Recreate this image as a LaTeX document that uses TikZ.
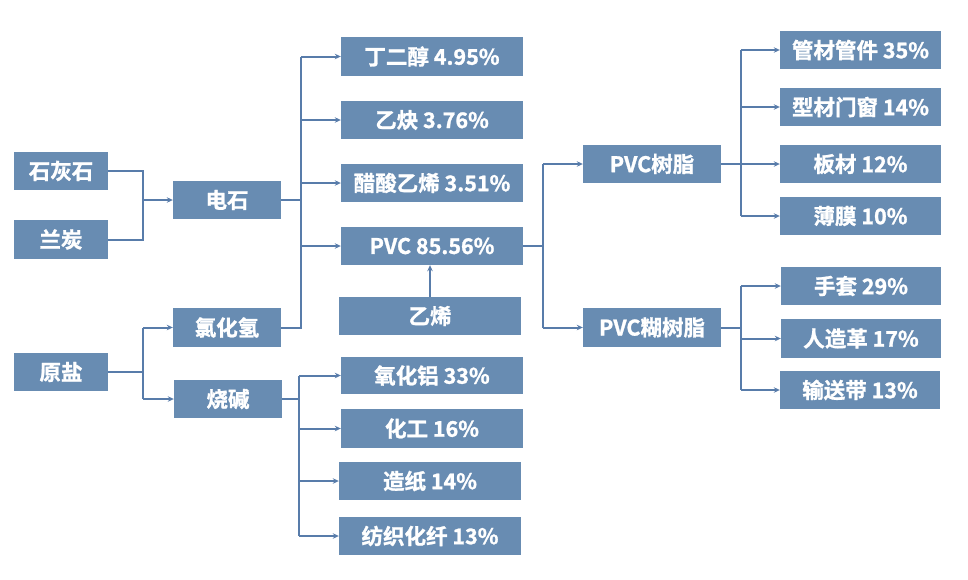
\documentclass[tikz,border=0pt]{standalone}
\usepackage{fontspec}
\setmainfont{Noto Sans CJK SC}[BoldFont={Noto Sans CJK SC Bold},BoldFeatures={FakeBold=1.2}]
\usetikzlibrary{arrows.meta}
\definecolor{boxblue}{RGB}{104,140,178}
\definecolor{lineblue}{RGB}{88,124,170}
\begin{document}
\begin{tikzpicture}[x=1pt,y=-1pt,
  bx/.style={fill=boxblue,draw=none,text=white,inner sep=0pt,
    font=\bfseries\fontsize{21.5}{24}\selectfont},
  ln/.style={draw=lineblue,line width=2pt},
  arr/.style={ln,-{Stealth[length=6pt,width=5.5pt]}}]
\useasboundingbox (0,0) rectangle (968,579);
\fill[white] (0,0) rectangle (968,579);
% left column
\node[bx,minimum width=94pt,minimum height=38pt] (shihui) at (61,171) {石灰石};
\node[bx,minimum width=94pt,minimum height=39pt] (lantan) at (61,239.5) {兰炭};
\node[bx,minimum width=94pt,minimum height=38pt] (yuanyan) at (61,372) {原盐};
% second column
\node[bx,minimum width=108pt,minimum height=38pt] (dianshi) at (227,200) {电石};
\node[bx,minimum width=108pt,minimum height=39pt] (lvhuaqing) at (227,327.5) {氯化氢};
\node[bx,minimum width=108pt,minimum height=38pt] (shaojian) at (228,399) {烧碱};
% third column
\node[bx,minimum width=182pt,minimum height=39pt] (dinger) at (432,56.5) {丁二醇 4.95\%};
\node[bx,minimum width=182pt,minimum height=38pt] (yique) at (432,120) {乙炔 3.76\%};
\node[bx,minimum width=182pt,minimum height=38pt] (cusuan) at (432,183) {醋酸乙烯 3.51\%};
\node[bx,minimum width=182pt,minimum height=38pt] (pvc) at (432,246) {PVC 85.56\%};
\node[bx,minimum width=182pt,minimum height=38pt] (yixi) at (430,316) {乙烯};
\node[bx,minimum width=182pt,minimum height=37pt] (yanghualv) at (432,375.5) {氧化铝 33\%};
\node[bx,minimum width=182pt,minimum height=39pt] (huagong) at (432,428.5) {化工 16\%};
\node[bx,minimum width=182pt,minimum height=38pt] (zaozhi) at (430,481) {造纸 14\%};
\node[bx,minimum width=182pt,minimum height=38pt] (fangzhi) at (430,536) {纺织化纤 13\%};
% fourth column
\node[bx,minimum width=138pt,minimum height=38pt] (pvcsz) at (652,164) {PVC树脂};
\node[bx,minimum width=138pt,minimum height=39pt] (pvchu) at (652,327.5) {PVC糊树脂};
% fifth column
\node[bx,minimum width=161pt,minimum height=38pt] (guancai) at (860.5,50) {管材管件 35\%};
\node[bx,minimum width=161pt,minimum height=38pt] (xingcai) at (860.5,107) {型材门窗 14\%};
\node[bx,minimum width=161pt,minimum height=38pt] (bancai) at (860.5,164) {板材 12\%};
\node[bx,minimum width=161pt,minimum height=38pt] (baomo) at (860.5,216) {薄膜 10\%};
\node[bx,minimum width=160pt,minimum height=38pt] (shoutao) at (861,286) {手套 29\%};
\node[bx,minimum width=160pt,minimum height=39pt] (renzaoge) at (861,338.5) {人造革 17\%};
\node[bx,minimum width=160pt,minimum height=38pt] (shusong) at (860,390) {输送带 13\%};
% bus coordinates
\coordinate (b1) at (143,0);
\coordinate (b2) at (301,0);
\coordinate (b5) at (299,0);
\coordinate (b3) at (543,0);
\coordinate (b4) at (741,0);
% 石灰石, 兰炭 -> 电石
\draw[ln] (shihui.east) -| (b1|-lantan.east) -- (lantan.east);
\draw[arr] (b1|-dianshi.west) -- (dianshi.west);
% 原盐 -> 氯化氢, 烧碱
\draw[ln] (yuanyan.east) -- (b1|-yuanyan.east);
\draw[ln] (b1|-lvhuaqing.west) -- (b1|-shaojian.west);
\draw[arr] (b1|-lvhuaqing.west) -- (lvhuaqing.west);
\draw[arr] (b1|-shaojian.west) -- (shaojian.west);
% 电石, 氯化氢 -> products
\draw[ln] (dianshi.east) -- (b2|-dianshi.east);
\draw[ln] (lvhuaqing.east) -| (b2|-dinger.west);
\draw[arr] (b2|-dinger.west) -- (dinger.west);
\draw[arr] (b2|-yique.west) -- (yique.west);
\draw[arr] (b2|-cusuan.west) -- (cusuan.west);
\draw[arr] (b2|-pvc.west) -- (pvc.west);
% 乙烯 -> PVC
\draw[arr] (yixi.north) -- (yixi.north|-pvc.south);
% 烧碱 -> products
\draw[ln] (shaojian.east) -- (b5|-shaojian.east);
\draw[ln] (b5|-yanghualv.west) -- (b5|-fangzhi.west);
\draw[arr] (b5|-yanghualv.west) -- (yanghualv.west);
\draw[arr] (b5|-huagong.west) -- (huagong.west);
\draw[arr] (b5|-zaozhi.west) -- (zaozhi.west);
\draw[arr] (b5|-fangzhi.west) -- (fangzhi.west);
% PVC -> resins
\draw[ln] (pvc.east) -- (b3|-pvc.east);
\draw[ln] (b3|-pvcsz.west) -- (b3|-pvchu.west);
\draw[arr] (b3|-pvcsz.west) -- (pvcsz.west);
\draw[arr] (b3|-pvchu.west) -- (pvchu.west);
% PVC树脂 -> uses
\draw[ln] (pvcsz.east) -- (b4|-pvcsz.east);
\draw[ln] (b4|-guancai.west) -- (b4|-baomo.west);
\draw[arr] (b4|-guancai.west) -- (guancai.west);
\draw[arr] (b4|-xingcai.west) -- (xingcai.west);
\draw[arr] (b4|-bancai.west) -- (bancai.west);
\draw[arr] (b4|-baomo.west) -- (baomo.west);
% PVC糊树脂 -> uses
\draw[ln] (pvchu.east) -- (b4|-pvchu.east);
\draw[ln] (b4|-shoutao.west) -- (b4|-shusong.west);
\draw[arr] (b4|-shoutao.west) -- (shoutao.west);
\draw[arr] (b4|-renzaoge.west) -- (renzaoge.west);
\draw[arr] (b4|-shusong.west) -- (shusong.west);
\end{tikzpicture}
\end{document}
